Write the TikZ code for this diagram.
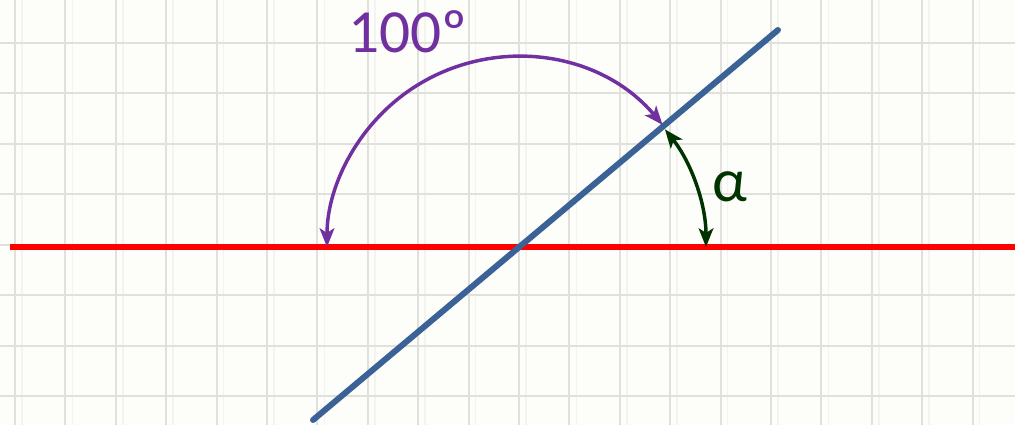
\documentclass[tikz,border=0pt]{standalone}
\usepackage{fontspec}
\setmainfont{Carlito}
\usetikzlibrary{arrows.meta}
\definecolor{bgc}{RGB}{253,253,250}
\definecolor{gridc}{RGB}{224,224,220}
\definecolor{gridf}{RGB}{243,243,239}
\definecolor{lineblue}{RGB}{59,98,150}
\definecolor{arcpurple}{RGB}{112,48,160}
\definecolor{arcgreen}{RGB}{0,51,0}
\tikzset{
  gridline/.style={gridc, line width=1.5},
  gridfaint/.style={gridf, line width=1.2},
  redline/.style={red, line width=4.5},
  blueline/.style={lineblue, line width=4.5},
  tipa/.tip={Stealth[length=14pt,width=11pt,inset=3.5pt]},
  anglearc/.style={line width=2.6, tipa-tipa},
  lbl/.style={inner sep=0pt, font=\fontsize{46}{50}\selectfont}
}
\begin{document}
\begin{tikzpicture}[x=0.75pt,y=0.75pt]
\fill[bgc] (0,0) rectangle (1015,425);
\useasboundingbox (0,0) rectangle (1015,425);
% grid
\foreach \k in {0,...,19} {
  \draw[gridfaint] ({22+50.4*\k},0) -- ({22+50.4*\k},425);
  \draw[gridline] ({15+50.4*\k},0) -- ({15+50.4*\k},425);
}
\foreach \k in {0,...,7} {
  \draw[gridline] (0,{425-43-50.5*\k}) -- (1015,{425-43-50.5*\k});
}
% lines
\coordinate (O) at (517,178);
\coordinate (rL) at (10,178);
\coordinate (rR) at (1015,178);
\coordinate (bA) at (313,5);
\coordinate (bB) at (778,395);
\draw[redline] (rL) -- (rR);
\draw[blueline, line cap=round] (bA) -- (bB);
% arcs
\draw[anglearc, arcpurple] ([shift={(40:190)}]O) arc[start angle=40, end angle=180, radius=190];
\draw[anglearc, arcgreen] ([shift={(0:189)}]O) arc[start angle=0, end angle=38.5, radius=189];
% labels
\node[lbl, text=arcpurple, anchor=base] (t100) at (408,372) {100º};
\node[lbl, text=arcgreen, anchor=base] (talpha) at (730,223) {α};
\end{tikzpicture}
\end{document}
